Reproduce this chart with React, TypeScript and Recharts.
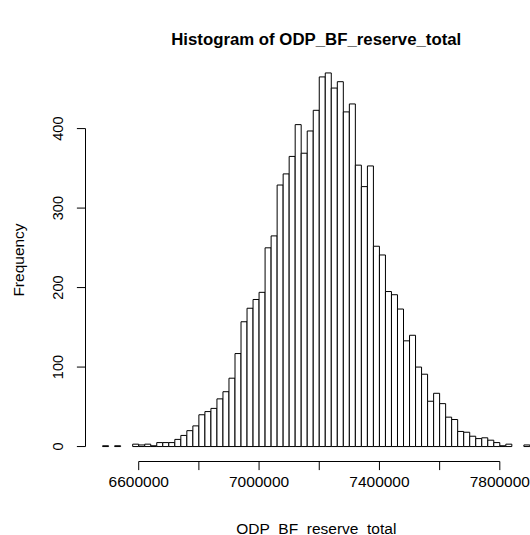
import React from 'react';
import { BarChart, Bar, XAxis, YAxis, ReferenceLine } from 'recharts';

// Histogram bin starts (bin width 20000)
const binStarts = [
  6480000, 6500000, 6520000, 6540000, 6560000, 6580000, 6600000, 6620000, 6640000, 6660000,
  6680000, 6700000, 6720000, 6740000, 6760000, 6780000, 6800000, 6820000, 6840000, 6860000,
  6880000, 6900000, 6920000, 6940000, 6960000, 6980000, 7000000, 7020000, 7040000, 7060000,
  7080000, 7100000, 7120000, 7140000, 7160000, 7180000, 7200000, 7220000, 7240000, 7260000,
  7280000, 7300000, 7320000, 7340000, 7360000, 7380000, 7400000, 7420000, 7440000, 7460000,
  7480000, 7500000, 7520000, 7540000, 7560000, 7580000, 7600000, 7620000, 7640000, 7660000,
  7680000, 7700000, 7720000, 7740000, 7760000, 7780000, 7800000, 7820000, 7840000, 7860000,
  7880000,
];
const binWidth = 20000;

const counts = [
  1, 0, 1, 0, 0, 3, 2, 3, 1, 5,
  5, 5, 9, 14, 20, 26, 40, 44, 48, 60,
  69, 86, 117, 157, 174, 185, 194, 250, 265, 329,
  343, 365, 405, 369, 397, 423, 465, 470, 451, 459,
  421, 431, 354, 327, 353, 252, 241, 195, 191, 173,
  133, 140, 100, 91, 57, 67, 54, 37, 34, 19,
  18, 13, 10, 11, 8, 5, 1, 3, 0, 0,
  2,
];

const xTicks = [6600000, 6800000, 7000000, 7200000, 7400000, 7600000, 7800000];
const xTickLabels = [6600000, 7000000, 7400000, 7800000];
const yTicks = [0, 100, 200, 300, 400];

const title = 'Histogram of ODP_BF_reserve_total';
const xLabel = 'ODP_BF_reserve_total';
const yLabel = 'Frequency';

const data = binStarts.map((b, i) => ({ bin: b, count: counts[i] }));

// R-style 4% axis extension
const xMin = binStarts[0];
const xMax = binStarts[binStarts.length - 1] + binWidth;
const xPad = 0.04 * (xMax - xMin);
const xDomain: [number, number] = [xMin - xPad, xMax + xPad];
const yMaxVal = Math.max(...counts);
const yDomain: [number, number] = [-0.04 * yMaxVal, 1.04 * yMaxVal];

const FONT = '"Liberation Sans", Arial, Helvetica, sans-serif';

const CHART_W = 560;
const CHART_H = 535;
const MARGIN = { top: 58, right: 13, bottom: 43.5, left: 25.5 };
const Y_AXIS_W = 60;
const X_AXIS_H = 30;
const plotLeft = MARGIN.left + Y_AXIS_W;
const plotRight = CHART_W - MARGIN.right;
const plotW = plotRight - plotLeft;
const padPx = (xPad / (xDomain[1] - xDomain[0])) * plotW;

const XTick = (props: any) => {
  const { x, y, payload } = props;
  const showLabel = xTickLabels.includes(payload.value);
  return (
    <g>
      <line x1={x} x2={x} y1={y} y2={y + 8.6} stroke="#000" strokeWidth={1} />
      {showLabel && (
        <text x={x} y={y + 25} textAnchor="middle" fontSize={15.5} fontFamily={FONT} fill="#000">
          {payload.value}
        </text>
      )}
    </g>
  );
};

const YTick = (props: any) => {
  const { x, y, payload } = props;
  const bx = x - 22.2;
  return (
    <g>
      <line x1={x} x2={x - 8.6} y1={y} y2={y} stroke="#000" strokeWidth={1} />
      <text
        x={bx}
        y={y}
        transform={`rotate(-90 ${bx} ${y})`}
        textAnchor="middle"
        fontSize={14.5}
        fontFamily={FONT}
        fill="#000"
      >
        {payload.value}
      </text>
    </g>
  );
};

export default function App() {
  return (
    <div
      style={{
        position: 'absolute',
        left: 0,
        top: 0,
        width: 530,
        height: 535,
        overflow: 'hidden',
        background: '#fff',
      }}
    >
      <BarChart
        width={CHART_W}
        height={CHART_H}
        data={data}
        margin={MARGIN}
        barCategoryGap={0}
        barGap={0}
      >
        <XAxis
          xAxisId="cat"
          dataKey="bin"
          hide
          orientation="top"
          height={0}
          padding={{ left: padPx, right: padPx }}
        />
        <XAxis
          xAxisId="num"
          type="number"
          dataKey="bin"
          domain={xDomain}
          allowDataOverflow
          ticks={xTicks}
          interval={0}
          axisLine={false}
          tickLine={false}
          tickSize={0}
          tickMargin={0}
          height={X_AXIS_H}
          tick={<XTick />}
        />
        <YAxis
          type="number"
          domain={yDomain}
          allowDataOverflow
          ticks={yTicks}
          interval={0}
          axisLine={false}
          tickLine={false}
          tickSize={0}
          tickMargin={0}
          width={Y_AXIS_W}
          tick={<YTick />}
        />
        <Bar
          xAxisId="cat"
          dataKey="count"
          fill="#fff"
          stroke="#000"
          strokeWidth={1}
          isAnimationActive={false}
        />
        <ReferenceLine
          xAxisId="num"
          segment={[
            { x: xTicks[0], y: yDomain[0] },
            { x: xTicks[xTicks.length - 1], y: yDomain[0] },
          ]}
          stroke="#000"
          strokeWidth={1}
          ifOverflow="visible"
        />
        <ReferenceLine
          xAxisId="num"
          segment={[
            { x: xDomain[0], y: yTicks[0] },
            { x: xDomain[0], y: yTicks[yTicks.length - 1] },
          ]}
          stroke="#000"
          strokeWidth={1}
          ifOverflow="visible"
        />
        <text
          x={(plotLeft + plotRight) / 2}
          y={45}
          textAnchor="middle"
          fontSize={16.8}
          fontWeight="bold"
          fontFamily={FONT}
          fill="#000"
        >
          {title}
        </text>
        <text
          x={(plotLeft + plotRight) / 2}
          y={533.5}
          textAnchor="middle"
          fontSize={15.5}
          fontFamily={FONT}
          fill="#000"
        >
          {xLabel}
        </text>
        <text
          x={24}
          y={260}
          transform="rotate(-90 24 260)"
          textAnchor="middle"
          fontSize={15.5}
          fontFamily={FONT}
          fill="#000"
        >
          {yLabel}
        </text>
      </BarChart>
    </div>
  );
}
